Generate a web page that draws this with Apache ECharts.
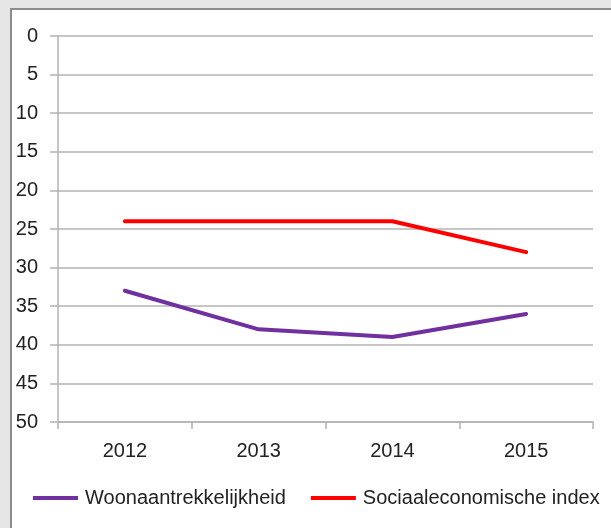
<!DOCTYPE html>
<html>
<head>
<meta charset="utf-8">
<script src="https://cdn.jsdelivr.net/npm/echarts@6/dist/echarts.min.js"></script>
<style>
  html, body { margin: 0; padding: 0; background: #e6e6e6; }
  #frame {
    position: absolute; left: 10px; top: 8px; width: 601px; height: 520px;
    box-sizing: border-box; border-left: 2px solid #8c8c8c; border-top: 2px solid #8c8c8c;
    background: #fff;
  }
  #chart { width: 599px; height: 518px; }
</style>
</head>
<body>
<div id="frame"><div id="chart"></div></div>
<script>
// chart data
const years = ['2012', '2013', '2014', '2015']
const woonaantrekkelijkheid = [33, 38, 39, 36]
const sociaaleconomisch = [24, 24, 24, 28]

const font = '"Liberation Sans", Arial, sans-serif'
const axisGray = '#b3b3b3'

const chart = echarts.init(document.getElementById('chart'))
chart.setOption({
  animation: false,
  textStyle: { fontFamily: font },
  grid: {
    left: 46,
    right: 18,
    top: 26,
    bottom: 106
  },
  legend: {
    left: 21,
    top: 478,
    width: 640,
    padding: 0,
    icon: 'rect',
    itemWidth: 45,
    itemHeight: 4,
    itemGap: 25,
    textStyle: { fontSize: 20, color: '#222', fontFamily: font, padding: [0, 0, 0, 2] },
    data: ['Woonaantrekkelijkheid', 'Sociaaleconomische index']
  },
  xAxis: {
    type: 'category',
    position: 'bottom',
    data: years,
    boundaryGap: true,
    axisLine: { onZero: false, lineStyle: { color: axisGray, width: 1.5 } },
    axisTick: { show: true, length: 7, lineStyle: { color: axisGray, width: 1.5 } },
    axisLabel: { fontSize: 20, color: '#222', margin: 19 }
  },
  yAxis: {
    type: 'value',
    inverse: true,
    min: 0,
    max: 50,
    interval: 5,
    axisLine: { show: true, lineStyle: { color: axisGray, width: 1.5 } },
    axisTick: { show: true, length: 8, lineStyle: { color: axisGray, width: 1.5 } },
    splitLine: { lineStyle: { color: axisGray, width: 1.5 } },
    axisLabel: { fontSize: 20, color: '#222', margin: 20 }
  },
  series: [
    {
      name: 'Woonaantrekkelijkheid',
      type: 'line',
      data: woonaantrekkelijkheid,
      symbol: 'none',
      itemStyle: { color: '#7030a0' },
      lineStyle: { color: '#7030a0', width: 4, cap: 'round', join: 'round' }
    },
    {
      name: 'Sociaaleconomische index',
      type: 'line',
      data: sociaaleconomisch,
      symbol: 'none',
      itemStyle: { color: '#ff0000' },
      lineStyle: { color: '#ff0000', width: 4, cap: 'round', join: 'round' }
    }
  ]
})
</script>
</body>
</html>
